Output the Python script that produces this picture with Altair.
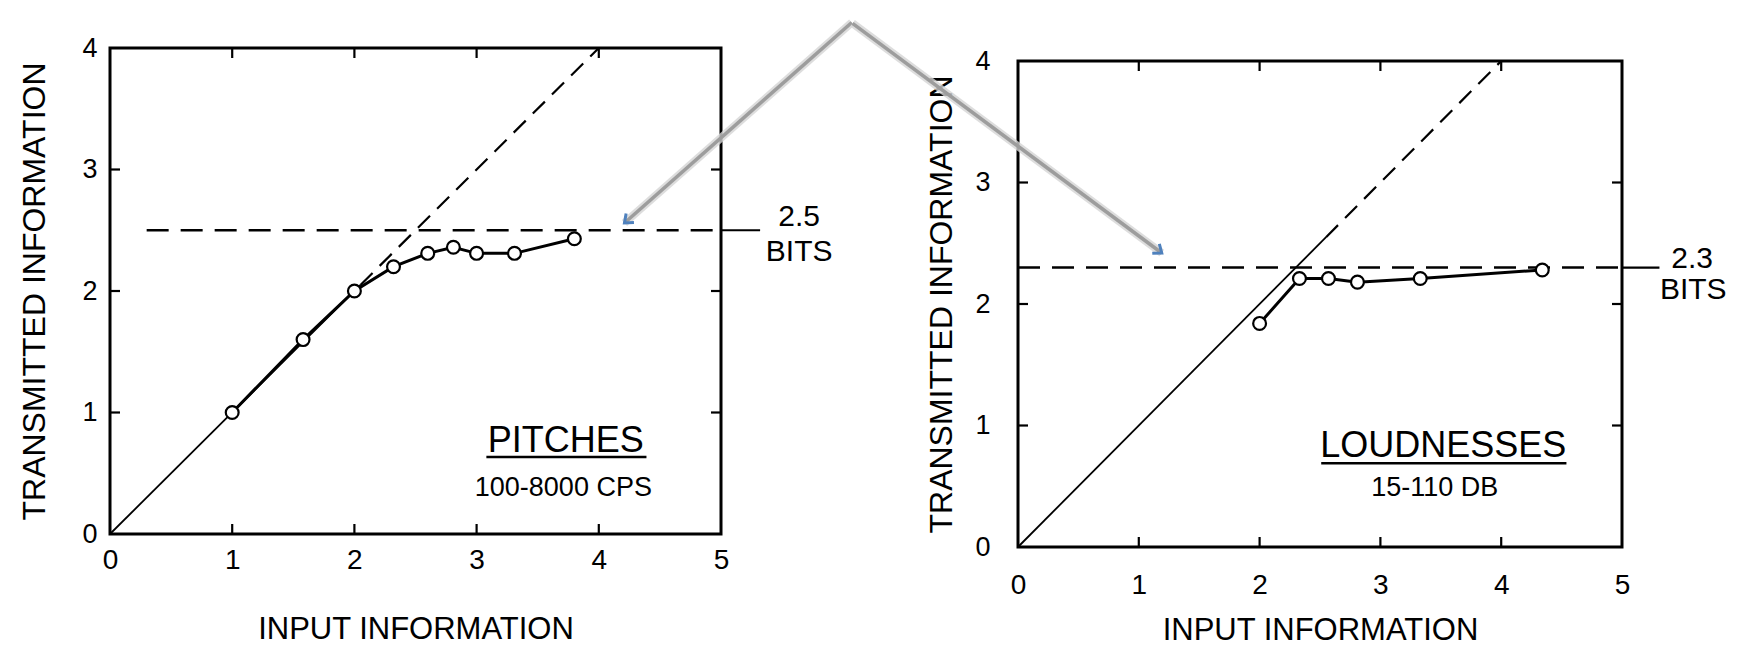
import altair as alt
import pandas as pd

FONT = "Liberation Sans"

# ---------------- data ----------------
x_tick_values = [0, 1, 2, 3, 4, 5]
y_tick_values = [0, 1, 2, 3, 4]
inner_x_ticks = [1, 2, 3, 4]
inner_y_ticks = [1, 2, 3]

# Pitches panel
pitch_input = [1.0, 1.58, 2.0, 2.32, 2.6, 2.81, 3.0, 3.31, 3.8]
pitch_transmitted = [1.0, 1.6, 2.0, 2.2, 2.31, 2.36, 2.31, 2.31, 2.43]
pitch_capacity = 2.5
pitch_diag_solid_end = 2.05
pitch_hline_start = 0.3
pitch_hline_end = 5.32
pitch_name = "PITCHES"
pitch_range = "100-8000 CPS"

# Loudness panel
loud_input = [2.0, 2.33, 2.57, 2.81, 3.33, 4.34]
loud_transmitted = [1.84, 2.21, 2.21, 2.18, 2.21, 2.28]
loud_capacity = 2.3
loud_diag_solid_end = 2.55
loud_hline_start = 0.0
loud_hline_end = 5.31
loud_name = "LOUDNESSES"
loud_range = "15-110 DB"

diag_end = 4.0
box_right = 5.0
bits_word = "BITS"

# annotation arrows (apex shared above both panels), in each panel's data units
pitch_arrow = {"x": [6.07], "y": [4.21], "x2": [4.21], "y2": [2.56]}
loud_arrow = {"x": [-1.37], "y": [4.31], "x2": [1.19], "y2": [2.42]}

TICK_COLOR = "black"


def panel(px, py, cap, diag_solid_end, hstart, hend, cap_xy, bits_xy,
          name, name_xy, underline, rng, rng_xy, arrow, arrow_angle,
          w, h, xlab_pad, ylab_pad, title_x, title_y):
    sx = alt.Scale(domain=[0, 5], nice=False, zero=False)
    sy = alt.Scale(domain=[0, 4], nice=False, zero=False)
    ax = alt.Axis(values=x_tick_values, format="d", ticks=False, tickSize=0,
                  domain=False, grid=False, labelFont=FONT, labelFontSize=28,
                  labelColor="black", labelPadding=xlab_pad,
                  labelBaseline="alphabetic", labelFlush=False, labelOverlap=False,
                  title="INPUT INFORMATION", titleFont=FONT, titleFontSize=31,
                  titleFontWeight="normal", titleColor="black", titleY=title_y,
                  titleBaseline="alphabetic")
    ay = alt.Axis(values=y_tick_values, format="d", ticks=False, tickSize=0,
                  domain=False, grid=False, labelFont=FONT, labelFontSize=27,
                  labelColor="black", labelPadding=ylab_pad,
                  labelFlush=False, labelOverlap=False,
                  title="TRANSMITTED INFORMATION", titleFont=FONT, titleFontSize=32,
                  titleFontWeight="normal", titleColor="black", titleX=title_x,
                  titleBaseline="alphabetic")

    def X(f):
        return alt.X(f, type="quantitative", scale=sx, axis=ax)

    def Y(f):
        return alt.Y(f, type="quantitative", scale=sy, axis=ay)

    pts_df = pd.DataFrame({"x": px, "y": py})
    line = alt.Chart(pts_df).mark_line(color="black", strokeWidth=3).encode(X("x"), Y("y"))
    pts = alt.Chart(pts_df).mark_point(shape="circle", filled=True, fill="white",
                                       stroke="black", strokeWidth=2.2, size=165,
                                       opacity=1).encode(X("x"), Y("y"))

    diag_solid = alt.Chart(pd.DataFrame({"x": [0], "y": [0], "x2": [diag_solid_end],
                                         "y2": [diag_solid_end]})).mark_rule(
        color="black", strokeWidth=1.8).encode(X("x"), Y("y"), x2="x2", y2="y2")
    diag_dash = alt.Chart(pd.DataFrame({"x": [diag_solid_end], "y": [diag_solid_end],
                                        "x2": [diag_end], "y2": [diag_end]})).mark_rule(
        color="black", strokeWidth=2.2, strokeDash=[17, 10]).encode(X("x"), Y("y"), x2="x2", y2="y2")

    h_dash = alt.Chart(pd.DataFrame({"x": [hstart], "x2": [box_right], "y": [cap]})).mark_rule(
        color="black", strokeWidth=2.6, strokeDash=[22, 12]).encode(X("x"), Y("y"), x2="x2")
    h_ext = alt.Chart(pd.DataFrame({"x": [box_right], "x2": [hend], "y": [cap]})).mark_rule(
        color="black", strokeWidth=2.2).encode(X("x"), Y("y"), x2="x2")

    cap_txt = alt.Chart(pd.DataFrame({"x": [cap_xy[0]], "y": [cap_xy[1]], "t": [f"{cap}"]})).mark_text(
        font=FONT, fontSize=30, color="black", align="center", baseline="alphabetic").encode(
        X("x"), Y("y"), text="t:N")
    bits_txt = alt.Chart(pd.DataFrame({"x": [bits_xy[0]], "y": [bits_xy[1]], "t": [bits_word]})).mark_text(
        font=FONT, fontSize=30, color="black", align="center", baseline="alphabetic").encode(
        X("x"), Y("y"), text="t:N")

    name_txt = alt.Chart(pd.DataFrame({"x": [name_xy[0]], "y": [name_xy[1]], "t": [name]})).mark_text(
        font=FONT, fontSize=36, color="black", align="center", baseline="alphabetic").encode(
        X("x"), Y("y"), text="t:N")
    under = alt.Chart(pd.DataFrame({"x": [underline[0]], "x2": [underline[1]], "y": [underline[2]]})).mark_rule(
        color="black", strokeWidth=2.5).encode(X("x"), Y("y"), x2="x2")
    rng_txt = alt.Chart(pd.DataFrame({"x": [rng_xy[0]], "y": [rng_xy[1]], "t": [rng]})).mark_text(
        font=FONT, fontSize=27, color="black", align="center", baseline="alphabetic").encode(
        X("x"), Y("y"), text="t:N")

    xt = pd.DataFrame({"t": inner_x_ticks})
    yt = pd.DataFrame({"t": inner_y_ticks})
    tick_top = alt.Chart(xt).mark_rule(color=TICK_COLOR, strokeWidth=2.2).encode(
        X("t"), y=alt.value(0), y2=alt.value(10))
    tick_bot = alt.Chart(xt).mark_rule(color=TICK_COLOR, strokeWidth=2.2).encode(
        X("t"), y=alt.value(h), y2=alt.value(h - 10))
    tick_left = alt.Chart(yt).mark_rule(color=TICK_COLOR, strokeWidth=2.2).encode(
        Y("t"), x=alt.value(0), x2=alt.value(10))
    tick_right = alt.Chart(yt).mark_rule(color=TICK_COLOR, strokeWidth=2.2).encode(
        Y("t"), x=alt.value(w), x2=alt.value(w - 10))

    arrow_df = pd.DataFrame(arrow)
    arrow_shadow = alt.Chart(arrow_df).mark_rule(color="#d4d4d4", strokeWidth=8, opacity=0.8).encode(
        X("x"), Y("y"), x2="x2", y2="y2")
    arrow_line = alt.Chart(arrow_df).mark_rule(color="#9d9d9d", strokeWidth=3.5).encode(
        X("x"), Y("y"), x2="x2", y2="y2")
    arrow_head = alt.Chart(arrow_df).mark_point(
        shape="M-1,-0.8L0,0L-1,0.8", filled=False, stroke="#4f81bd", strokeWidth=3,
        size=220, opacity=1, angle=arrow_angle).encode(X("x2"), Y("y2"))

    return alt.layer(
        diag_solid, diag_dash, h_dash, h_ext, line, pts,
        cap_txt, bits_txt, name_txt, under, rng_txt,
        tick_top, tick_bot, tick_left, tick_right,
        arrow_shadow, arrow_line, arrow_head,
    ).properties(width=w, height=h)


left = panel(pitch_input, pitch_transmitted, pitch_capacity, pitch_diag_solid_end,
             pitch_hline_start, pitch_hline_end,
             (5.64, 2.535), (5.64, 2.247),
             pitch_name, (3.73, 0.675), (3.08, 4.39, 0.634),
             pitch_range, (3.71, 0.31),
             pitch_arrow, 138.7,
             611, 486, 34, 13, -66, 104)

right = panel(loud_input, loud_transmitted, loud_capacity, loud_diag_solid_end,
              loud_hline_start, loud_hline_end,
              (5.58, 2.293), (5.59, 2.045),
              loud_name, (3.52, 0.74), (2.51, 4.54, 0.69),
              loud_range, (3.45, 0.42),
              loud_arrow, 36.6,
              604, 486, 46, 28, -67, 92)

spacer = alt.Chart(pd.DataFrame({"s": [0]})).mark_point(opacity=0).encode(
    x=alt.X("s:Q", axis=None), y=alt.Y("s:Q", axis=None)
).properties(width=1, height=1, view=alt.ViewBackground(stroke="transparent"))

right_col = alt.vconcat(spacer, right, spacing=12, bounds="flush")

chart = alt.hconcat(left, right_col, spacing=297, bounds="flush").properties(
    padding={"left": 8, "top": 8, "right": 5, "bottom": 0}
).configure(background="white").configure_view(stroke="black", strokeWidth=3)

chart.save("out.html", embed_options={"renderer": "svg", "actions": False})
